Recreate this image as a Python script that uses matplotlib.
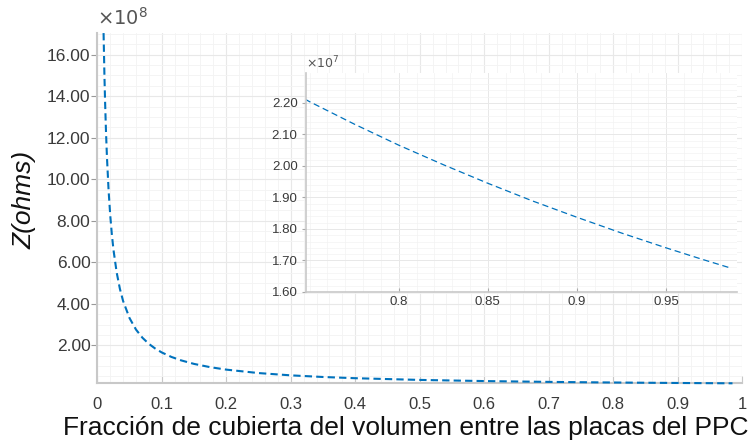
import matplotlib
matplotlib.use("Agg")
import matplotlib.pyplot as plt
from matplotlib.ticker import FuncFormatter, MultipleLocator

# fraccion de cubierta vs impedancia
frac = [0.0097, 0.011, 0.012, 0.0135, 0.015, 0.0175, 0.02, 0.0225, 0.025, 0.03,
        0.035, 0.04, 0.05, 0.06, 0.07, 0.08, 0.09, 0.1, 0.115, 0.13, 0.15,
        0.175, 0.2, 0.25, 0.3, 0.35, 0.4, 0.5, 0.6, 0.7, 0.75, 0.775, 0.8,
        0.825, 0.85, 0.875, 0.9, 0.925, 0.95, 0.97, 0.985]
z_ohm = [17.04e8, 15.03e8, 13.78e8, 12.24e8, 11.02e8, 9.45e8, 8.27e8, 7.35e8,
         6.61e8, 5.51e8, 4.72e8, 4.13e8, 3.306e8, 2.755e8, 2.361e8, 2.066e8,
         1.837e8, 1.653e8, 1.437e8, 1.272e8, 1.102e8, 0.945e8, 0.8265e8,
         0.661e8, 0.551e8, 0.472e8, 0.413e8, 0.331e8, 0.2755e8, 0.236e8,
         2.204e7, 2.133e7, 2.066e7, 2.004e7, 1.945e7, 1.889e7, 1.837e7,
         1.787e7, 1.740e7, 1.704e7, 1.678e7]

xticks_main = [0, 0.1, 0.2, 0.3, 0.4, 0.5, 0.6, 0.7, 0.8, 0.9, 1]
yticks_main = [2e8, 4e8, 6e8, 8e8, 10e8, 12e8, 14e8, 16e8]
xticks_zoom = [0.8, 0.85, 0.9, 0.95]
yticks_zoom = [1.6e7, 1.7e7, 1.8e7, 1.9e7, 2.0e7, 2.1e7, 2.2e7]

plt.rcParams['font.family'] = ['Liberation Sans', 'DejaVu Sans']

blue = '#0072BD'
axcol = '#c8c8c8'
txtcol = '#3a3a3a'

fig = plt.figure(figsize=(7.55, 4.47), dpi=100)
ax = fig.add_axes([0.1289, 0.1425, 0.983 - 0.1289, 0.926 - 0.1425])

ax.plot(frac, z_ohm, '--', color=blue, lw=1.5, dashes=(3.5, 2), clip_on=False,
        zorder=4)
ax.set_xlim(0, 1)
ax.set_ylim(min(z_ohm), max(z_ohm))
ax.set_xticks(xticks_main)
ax.set_yticks(yticks_main)
ax.xaxis.set_minor_locator(MultipleLocator(0.02))
ax.yaxis.set_minor_locator(MultipleLocator(0.5e8))
ax.xaxis.set_major_formatter(FuncFormatter(lambda v, p: '%g' % v))
ax.yaxis.set_major_formatter(FuncFormatter(lambda v, p: '%.2f' % (v / 1e8)))
ax.grid(which='major', color='#e8e8e8', lw=0.8)
ax.grid(which='minor', color='#f3f3f3', lw=0.6)
ax.set_axisbelow(True)
for s in ['top', 'right']:
    ax.spines[s].set_visible(False)
for s in ['left', 'bottom']:
    ax.spines[s].set_color(axcol)
    ax.spines[s].set_linewidth(1.5)
ax.tick_params(axis='x', which='major', direction='in', length=5, color=axcol,
               labelsize=12, labelcolor=txtcol, pad=10)
ax.tick_params(axis='y', which='major', direction='out', length=4, color='#999999',
               labelsize=12.5, labelcolor=txtcol, pad=1)
ax.tick_params(which='minor', length=0)
ax.text(0.0, 1.012, r'$\times10^{8}$', transform=ax.transAxes, fontsize=14,
        color='#555555', ha='left', va='bottom')

ax.set_xlabel('Fracción de cubierta del volumen entre las placas del PPC',
              fontsize=19, color='#111111', va='top')
ax.xaxis.set_label_coords(0.479, -0.094)
ax.set_ylabel('Z(ohms)', fontsize=19, style='italic', color='#111111')
ax.yaxis.set_label_coords(-0.094, 0.523)

# recuadro con el tramo final de la curva
axz = fig.add_axes([0.4053, 0.3468, 0.9768 - 0.4053, 0.8367 - 0.3468])
axz.set_zorder(5)
axz.set_facecolor('white')
axz.plot(frac, z_ohm, '--', color=blue, lw=0.9, dashes=(5, 3))
axz.set_xlim(0.748, 0.99)
axz.set_ylim(1.6e7, 2.295e7)
axz.set_xticks(xticks_zoom)
axz.set_yticks(yticks_zoom)
axz.xaxis.set_minor_locator(MultipleLocator(0.01))
axz.yaxis.set_minor_locator(MultipleLocator(0.02e7))
axz.xaxis.set_major_formatter(FuncFormatter(lambda v, p: '%g' % v))
axz.yaxis.set_major_formatter(FuncFormatter(lambda v, p: '%.2f' % (v / 1e7)))
axz.grid(which='major', color='#e8e8e8', lw=0.7)
axz.grid(which='minor', color='#f3f3f3', lw=0.5)
axz.set_axisbelow(True)
for s in ['top', 'right']:
    axz.spines[s].set_visible(False)
for s in ['left', 'bottom']:
    axz.spines[s].set_color(axcol)
    axz.spines[s].set_linewidth(1.2)
axz.tick_params(which='major', length=3, color='#aaaaaa', labelsize=9.5,
                labelcolor=txtcol, pad=3)
axz.tick_params(axis='x', which='major', direction='in')
axz.tick_params(which='minor', length=0)
axz.text(0.0, 1.01, r'$\times10^{7}$', transform=axz.transAxes, fontsize=9,
         color='#555555', ha='left', va='bottom')

fig.savefig('out.png', dpi=100)
